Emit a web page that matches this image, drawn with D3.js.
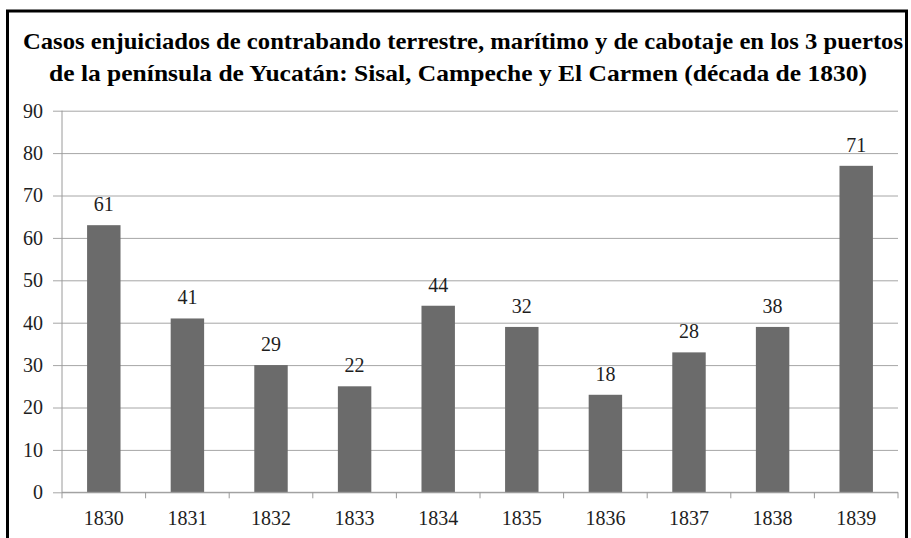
<!DOCTYPE html>
<html>
<head>
    <meta charset="utf-8">
    <title>Casos enjuiciados de contrabando</title>
    <style>
        body { margin: 0; background: #fff; }
    </style>
</head>
<body>
<div id="chart"></div>
<script src="https://d3js.org/d3.v7.min.js"></script>
<script>
    // data
    const years = ["1830", "1831", "1832", "1833", "1834", "1835", "1836", "1837", "1838", "1839"];
    // bar heights as drawn (they don't agree with the printed labels in the original)
    const barValues = [63, 41, 30, 25, 44, 39, 23, 33, 39, 77];
    const labelValues = [61, 41, 29, 22, 44, 32, 18, 28, 38, 71];
    const yTicks = [0, 10, 20, 30, 40, 50, 60, 70, 80, 90];
    const titleLines = [
        "Casos enjuiciados de contrabando terrestre, marítimo y de cabotaje en los 3 puertos",
        "de la península de Yucatán: Sisal, Campeche y El Carmen (década de 1830)"
    ];

    const W = 911, H = 538;
    const plot = { left: 62, right: 898, top: 110.7, bottom: 492.3 };
    const serif = "'Liberation Serif'";
    const textColor = "#1e1e1e";

    const svg = d3.select("#chart").append("svg")
        .attr("width", W)
        .attr("height", H)
        .style("font-family", serif);

    // outer frame
    svg.append("rect")
        .attr("x", 7.5).attr("y", 11)
        .attr("width", 899).attr("height", 600)
        .attr("fill", "none")
        .attr("stroke", "#000")
        .attr("stroke-width", 3);

    // title, squeezed to the width seen in the picture
    const titleSpec = [
        { cx: 463, y: 48.5, len: 880 },
        { cx: 458, y: 80.5, len: 818 }
    ];
    titleLines.forEach((t, i) => {
        svg.append("text")
            .attr("x", titleSpec[i].cx)
            .attr("y", titleSpec[i].y)
            .attr("text-anchor", "middle")
            .attr("textLength", titleSpec[i].len)
            .attr("lengthAdjust", "spacingAndGlyphs")
            .style("font-family", serif)
            .style("font-weight", "bold")
            .style("font-size", "24px")
            .style("fill", "#000")
            .text(t);
    });

    const x = d3.scaleBand()
        .domain(years)
        .range([plot.left, plot.right])
        .paddingInner(0.6)
        .paddingOuter(0.3);

    const y = d3.scaleLinear()
        .domain([0, 90])
        .range([plot.bottom, plot.top]);

    // gridlines + y ticks
    const yAxis = d3.axisLeft(y)
        .tickValues(yTicks)
        .tickSize(-(plot.right - plot.left))
        .tickSizeOuter(0)
        .tickPadding(19)
        .tickFormat(d3.format("d"));

    const gy = svg.append("g")
        .attr("transform", `translate(${plot.left},0)`)
        .call(yAxis)
        .attr("font-family", null)
        .attr("font-size", null);
    gy.select(".domain").remove();
    gy.selectAll(".tick line")
        .attr("x1", -9)
        .attr("stroke", "#a6a6a6");
    gy.selectAll(".tick text")
        .style("font-family", serif)
        .style("font-size", "20px")
        .style("fill", textColor);

    // vertical axis line
    svg.append("line")
        .attr("x1", plot.left).attr("x2", plot.left)
        .attr("y1", plot.top).attr("y2", plot.bottom)
        .attr("stroke", "#9a9a9a");

    // bars
    svg.selectAll(".bar")
        .data(years)
        .enter().append("rect")
        .attr("class", "bar")
        .attr("x", d => x(d))
        .attr("width", x.bandwidth())
        .attr("y", (d, i) => y(barValues[i]))
        .attr("height", (d, i) => y(0) - y(barValues[i]))
        .attr("fill", "#6b6b6b");

    // value labels
    svg.selectAll(".val-label")
        .data(years)
        .enter().append("text")
        .attr("class", "val-label")
        .attr("x", d => x(d) + x.bandwidth() / 2)
        .attr("y", (d, i) => y(barValues[i]) - 14)
        .attr("text-anchor", "middle")
        .style("font-family", serif)
        .style("font-size", "20px")
        .style("fill", textColor)
        .text((d, i) => labelValues[i]);

    // x axis: baseline, boundary ticks, year labels
    svg.append("line")
        .attr("x1", plot.left).attr("x2", plot.right)
        .attr("y1", plot.bottom).attr("y2", plot.bottom)
        .attr("stroke", "#9a9a9a");

    const step = x.step();
    const boundaries = d3.range(years.length + 1).map(i => plot.left + i * step);
    svg.selectAll(".xtick")
        .data(boundaries)
        .enter().append("line")
        .attr("class", "xtick")
        .attr("x1", d => d).attr("x2", d => d)
        .attr("y1", plot.bottom).attr("y2", plot.bottom + 6)
        .attr("stroke", "#9a9a9a");

    svg.selectAll(".year")
        .data(years)
        .enter().append("text")
        .attr("class", "year")
        .attr("x", d => x(d) + x.bandwidth() / 2)
        .attr("y", 525)
        .attr("text-anchor", "middle")
        .style("font-family", serif)
        .style("font-size", "20px")
        .style("fill", textColor)
        .text(d => d);
</script>
</body>
</html>
